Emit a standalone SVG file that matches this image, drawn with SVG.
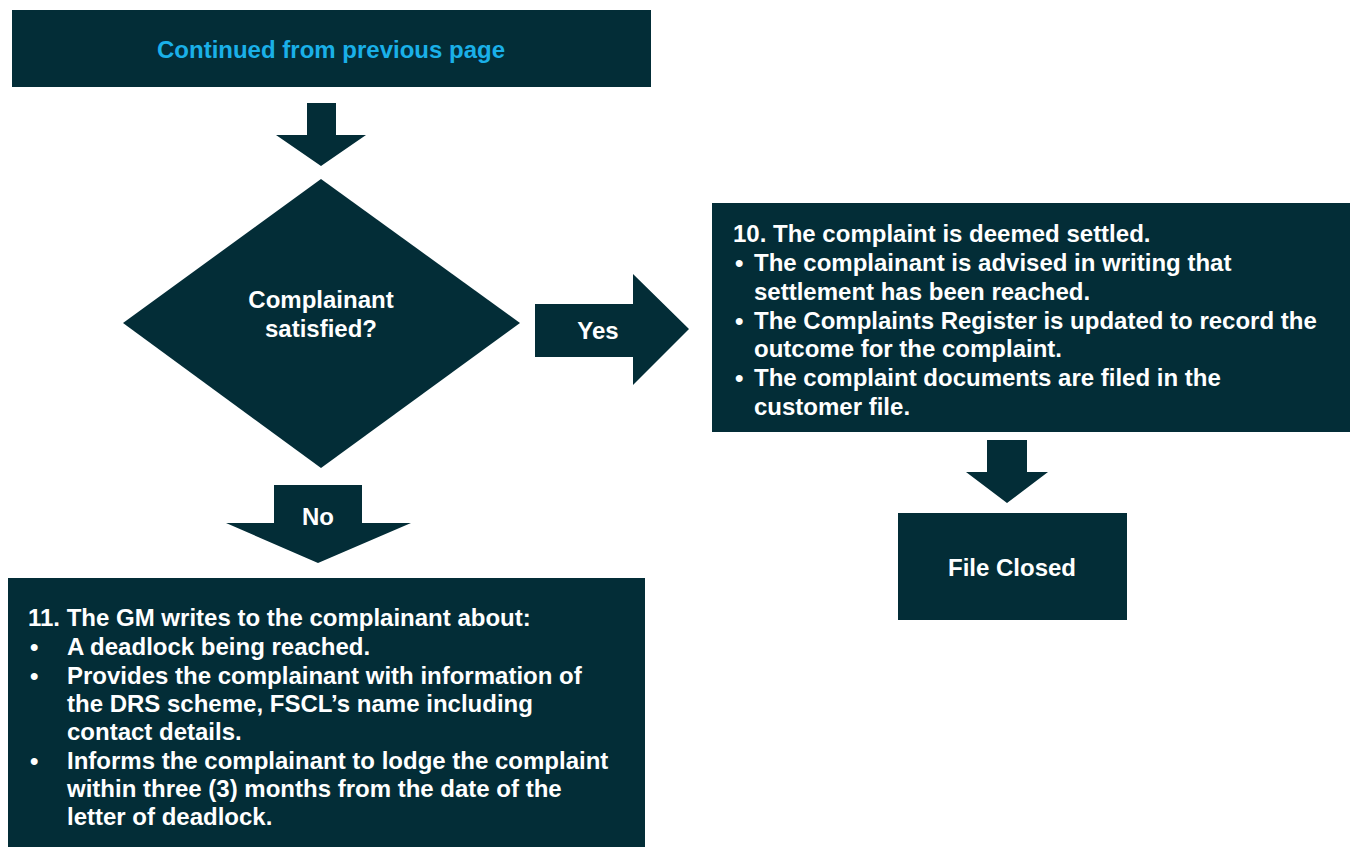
<svg xmlns="http://www.w3.org/2000/svg" width="1357" height="847" viewBox="0 0 1357 847">
<style>
.s{fill:#032d37}
.t{font-family:"Liberation Sans",Arial,sans-serif;font-weight:bold;font-size:24px;fill:#ffffff}
.c{text-anchor:middle}
.b{fill:#1ab0e8}
</style>
<rect width="1357" height="847" fill="#ffffff"/>
<g id="connectors">
<polygon class="s" points="307,103 336,103 336,135 366,135 321,166 276,135 307,135"/>
<g id="yes-arrow"><polygon class="s" points="535,304 633,304 633,274 689,329 633,385 633,357 535,357"/><text class="t c" x="598" y="339">Yes</text></g>
<g id="no-arrow"><polygon class="s" points="274,485 362,485 362,523 411,523 318,563 226,523 274,523"/><text class="t c" x="318" y="525">No</text></g>
<polygon class="s" points="987,440 1027,440 1027,472 1048,472 1007,503 966,472 987,472"/>
</g>
<g id="start"><rect class="s" x="12" y="10" width="639" height="77"/><text class="t c b" x="331" y="58">Continued from previous page</text></g>
<g id="decision"><polygon class="s" points="321,179 520,323 321,468 123,323"/><text class="t c" x="321" y="308">Complainant</text><text class="t c" x="321" y="337">satisfied?</text></g>
<g id="step10"><rect class="s" x="712" y="203" width="638" height="229"/>
<text class="t" x="733" y="242">10. The complaint is deemed settled.</text>
<text class="t" x="735" y="271" font-size="20">•</text><text class="t" x="754" y="271">The complainant is advised in writing that</text>
<text class="t" x="754" y="300">settlement has been reached.</text>
<text class="t" x="735" y="329" font-size="20">•</text><text class="t" x="754" y="329">The Complaints Register is updated to record the</text>
<text class="t" x="754" y="357">outcome for the complaint.</text>
<text class="t" x="735" y="386" font-size="20">•</text><text class="t" x="754" y="386">The complaint documents are filed in the</text>
<text class="t" x="754" y="415">customer file.</text>
</g>
<g id="closed"><rect class="s" x="898" y="513" width="229" height="107"/><text class="t c" x="1012" y="576">File Closed</text></g>
<g id="step11"><rect class="s" x="8" y="578" width="637" height="269"/>
<text class="t" x="28" y="626">11. The GM writes to the complainant about:</text>
<text class="t" x="30" y="655">•</text><text class="t" x="67" y="655">A deadlock being reached.</text>
<text class="t" x="30" y="684">•</text><text class="t" x="67" y="684">Provides the complainant with information of</text>
<text class="t" x="67" y="712">the DRS scheme, FSCL’s name including</text>
<text class="t" x="67" y="740">contact details.</text>
<text class="t" x="30" y="769">•</text><text class="t" x="67" y="769">Informs the complainant to lodge the complaint</text>
<text class="t" x="67" y="797">within three (3) months from the date of the</text>
<text class="t" x="67" y="825">letter of deadlock.</text>
</g>
</svg>
